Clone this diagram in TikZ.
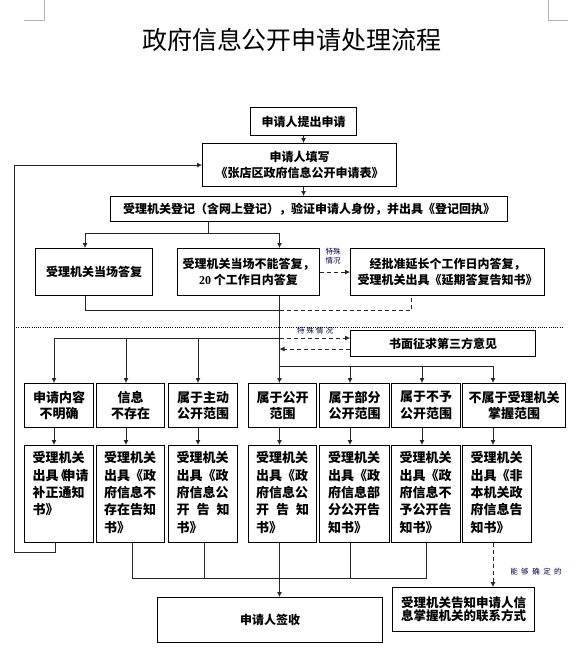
\documentclass[tikz,border=0pt]{standalone}
\usepackage{fontspec}
\setmainfont{Noto Sans CJK SC}
\newfontfamily\latinserif{Liberation Serif}
\usetikzlibrary{arrows.meta}
\tikzset{
  box/.style={draw=black, line width=1.1pt, inner sep=0pt, align=center, anchor=north west, font=\bfseries\fontsize{12}{16}\selectfont},
  conn/.style={draw=black!85, line width=0.8pt},
  arr/.style={conn, -{Latex[length=5pt,width=5pt]}},
  dsh/.style={dash pattern=on 4pt off 3pt},
  tag/.style={font=\fontsize{7.5}{9.5}\selectfont, text=black!70!blue, inner sep=0pt, align=center},
  rowthree/.style={box, minimum height=44pt, font=\bfseries\fontsize{13}{16.7}\selectfont},
  rowfour/.style={box, minimum width=69pt, minimum height=97pt, font=\bfseries\fontsize{13}{17.4}\selectfont},
}
\newcommand{\ftext}[1]{\parbox[t][85pt][t]{53pt}{\raggedright #1}}
\newcommand{\spread}[1]{\makebox[53pt][s]{#1}}
\begin{document}
\begin{tikzpicture}[x=1pt,y=-1pt]
\useasboundingbox (0,0) rectangle (584,657);
\fill[white] (0,0) rectangle (584,657);
% page corner marks
\draw[gray!60, line width=0.6pt] (44,0) -- (44,20.5) -- (24,20.5);
\draw[gray!60, line width=0.6pt] (548,0) -- (548,20.5) -- (568,20.5);
% title
\node[inner sep=0pt, font=\fontsize{25}{30}\selectfont] (title) at (292,40) {政府信息公开申请处理流程};
% top boxes
\node[box, minimum width=106pt, minimum height=28pt] (b1) at (250,107) {申请人提出申请};
\node[box, minimum width=194pt, minimum height=43pt] (b2) at (202,143) {申请人填写\\《张店区政府信息公开申请表》};
\node[box, minimum width=397pt, minimum height=25pt] (b3) at (110,196) {受理机关登记（含网上登记），验证申请人身份，并出具《登记回执》};
% second row
\node[box, minimum width=117pt, minimum height=47pt] (rA) at (35,248) {受理机关当场答复};
\node[box, minimum width=142pt, minimum height=47pt] (rB) at (177,248) {受理机关当场不能答复，\\{\latinserif\bfseries 20} 个工作日内答复};
\node[box, minimum width=194pt, minimum height=47pt] (rC) at (350,248) {经批准延长个工作日内答复，\\受理机关出具《延期答复告知书》};
\node[box, minimum width=185pt, minimum height=26pt] (tp) at (350,330) {书面征求第三方意见};
% third row
\node[rowthree, minimum width=69pt] (t1) at (24,383) {申请内容\\不明确};
\node[rowthree, minimum width=68pt] (t2) at (96,383) {信息\\不存在};
\node[rowthree, minimum width=69pt] (t3) at (168,383) {属于主动\\公开范围};
\node[rowthree, minimum width=68pt] (t4) at (248,383) {属于公开\\范围};
\node[rowthree, minimum width=70pt] (t5) at (319,383) {属于部分\\公开范围};
\node[rowthree, minimum width=69pt] (t6) at (391,383) {属于不予\\公开范围};
\node[rowthree, minimum width=103pt] (t7) at (462,383) {不属于受理机关\\掌握范围};
% fourth row
\node[rowfour] (f1) at (24,445) {\ftext{受理机关\\出具\kern-4pt《\kern-5pt申请\\补正通知\\书》}};
\node[rowfour, minimum width=68pt] (f2) at (96,445) {\ftext{受理机关\\出具《政\\府信息不\\存在告知\\书》}};
\node[rowfour] (f3) at (168,445) {\ftext{受理机关\\出具《政\\府信息公\\\spread{开\hfill 告\hfill 知}\\书》}};
\node[rowfour, minimum width=68pt] (f4) at (248,445) {\ftext{受理机关\\出具《政\\府信息公\\\spread{开\hfill 告\hfill 知}\\书》}};
\node[rowfour, minimum width=70pt] (f5) at (319,445) {\ftext{受理机关\\出具《政\\府信息部\\分公开告\\知书》}};
\node[rowfour] (f6) at (391,445) {\ftext{受理机关\\出具《政\\府信息不\\予公开告\\知书》}};
\node[rowfour] (f7) at (462,445) {\ftext{受理机关\\出具《非\\本机关政\\府信息告\\知书》}};
% bottom boxes
\node[box, minimum width=225pt, minimum height=45pt] (sign) at (157,597) {申请人签收};
\node[box, minimum width=142pt, minimum height=44pt, font=\bfseries\fontsize{12.5}{12}\selectfont] (info) at (392,587) {受理机关告知申请人信\\息掌握机关的联系方式};
% column coordinates
\coordinate (c1) at (54,0);
\coordinate (c2) at (126,0);
\coordinate (c3) at (198,0);
\coordinate (c4) at (279.5,0);
\coordinate (c5) at (350,0);
\coordinate (c6) at (422,0);
\coordinate (c7) at (493,0);
% connectors top
\draw[arr] (b1.south) -- (b1.south |- b2.north);
\draw[arr] (b1.south |- b2.south) -- (b1.south |- b3.north);
\coordinate (j1) at (208,233);
\coordinate (jA) at (85,233);
\coordinate (jB) at (c4 |- j1);
\draw[conn] (b3.south -| j1) -- (j1);
\draw[conn] (jA) -- (jB);
\draw[arr] (jA) -- (jA |- rA.north);
\draw[arr] (jB) -- (jB |- rB.north);
\draw[arr, dsh] (rB.east) -- (rC.west);
\node[tag] (lab1) at (333,256) {特殊\\情况};
\coordinate (k1) at (85,310);
\coordinate (k2) at (c4 |- k1);
\coordinate (k3) at (411,310);
\draw[conn] (rA.south -| k1) -- (k1) -- (k2);
\draw[conn, dsh] (k2) -- (k3) -- (k3 |- rC.south);
% dotted separator
\draw[black, line width=0.7pt, dash pattern=on 1pt off 1.2pt] (14,327) -- (562,327);
% main vertical
\draw[arr] (rB.south -| c4) -- (c4 |- t4.north);
% third party
\coordinate (m1) at (c4 |- 0,338);
\coordinate (m2) at (c4 |- 0,349);
\draw[arr, dsh] (m1) -- (m1 -| tp.west);
\draw[arr, dsh] (m2 -| tp.west) -- (m2);
\node[tag] (lab2) at (315,331) {特\hspace{2pt}殊\hspace{2pt}情\hspace{2pt}况};
% left branch
\coordinate (m0) at (c1 |- m1);
\draw[conn] (m0) -- (m1);
\draw[arr] (m0) -- (c1 |- t1.north);
\draw[arr] (c2 |- m1) -- (c2 |- t2.north);
\draw[arr] (c3 |- m1) -- (c3 |- t3.north);
% right branch
\coordinate (r0) at (c4 |- 0,366);
\draw[conn] (r0) -- (c7 |- r0);
\draw[arr] (c5 |- r0) -- (c5 |- t5.north);
\draw[arr] (c6 |- r0) -- (c6 |- t6.north);
\draw[arr] (c7 |- r0) -- (c7 |- t7.north);
% row3 -> row4
\draw[arr] (c1 |- t1.south) -- (c1 |- f1.north);
\draw[arr] (c2 |- t2.south) -- (c2 |- f2.north);
\draw[arr] (c3 |- t3.south) -- (c3 |- f3.north);
\draw[arr] (c4 |- t4.south) -- (c4 |- f4.north);
\draw[arr] (c5 |- t5.south) -- (c5 |- f5.north);
\draw[arr] (c6 |- t6.south) -- (c6 |- f6.north);
\draw[arr] (c7 |- t7.south) -- (c7 |- f7.north);
% feedback loop
\coordinate (fb) at (14,552);
\draw[arr] (f1.south -| 55,0) -- (55,552) -- (fb) -- (fb |- b2.west) -- (b2.west);
% collector
\coordinate (d2) at (132,578);
\coordinate (d3) at (204,578);
\coordinate (d5) at (350,578);
\coordinate (d6) at (426,578);
\draw[conn] (f2.south -| d2) -- (d2) -- (d6) -- (f6.south -| d6);
\draw[conn] (f3.south -| d3) -- (d3);
\draw[conn] (f5.south -| d5) -- (d5);
\draw[arr] (f4.south -| c4) -- (c4 |- sign.north);
% determinable
\draw[arr, dsh] (f7.south -| c7) -- (c7 |- info.north);
\node[tag] (lab3) at (536,572) {能\hspace{3.5pt}够\hspace{3.5pt}确\hspace{3.5pt}定\hspace{3.5pt}的};
\end{tikzpicture}
\end{document}
